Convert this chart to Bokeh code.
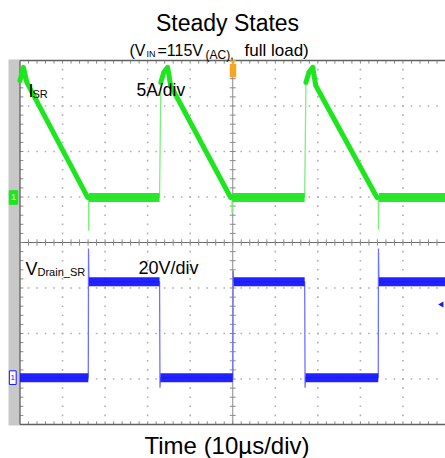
from bokeh.plotting import figure
from bokeh.models import Range1d
from bokeh.core.properties import value
from bokeh.embed import file_html
from bokeh.resources import INLINE

# ---- data (time in screen divisions, 10 us/div; amplitude in screen divisions) ----
# I_SR trace (green, 5 A/div, channel ground at 5.0 div)
ISR_t = [0.00, 0.08, 0.16, 1.59, 1.61, 1.615, 1.62, 3.28, 3.31, 3.38, 3.47, 3.54,
         4.95, 4.98, 4.985, 4.99, 6.69, 6.72, 6.79, 6.88, 6.95, 8.39, 8.42, 8.425, 8.43, 10.0]
ISR_v = [7.56, 7.85, 7.52, 4.99, 4.99, 4.26, 4.99, 4.99, 7.52, 7.74, 7.85, 7.45,
         4.99, 4.99, 4.64, 4.99, 4.99, 7.52, 7.74, 7.85, 7.45, 4.99, 4.99, 4.28, 4.99, 4.99]
ISR_ramps = [(0, 3), (8, 12), (17, 21)]
ISR_flats = [(6, 7), (15, 16), (24, 25)]

# V_Drain_SR trace (blue, 20 V/div, channel ground at 1.0 div)
VDS_t = [0.00, 1.605, 1.61, 1.62, 3.28, 3.29, 3.30, 5.00, 5.01, 5.02,
         6.69, 6.70, 6.71, 8.42, 8.425, 8.435, 10.0]
VDS_v = [1.03, 1.03, 3.87, 3.14, 3.14, 0.81, 1.03, 1.03, 3.38, 3.14,
         3.14, 0.81, 1.03, 1.03, 3.87, 3.14, 3.14]
VDS_flats = [(0, 1), (3, 4), (6, 7), (9, 10), (12, 13), (15, 16)]

GREEN = "#1ee61e"
GREEN_EDGE = "#7cf07c"
BLUE = "#1616ff"
BLUE_EDGE = "#7070ff"
FONT = value("Liberation Sans")

PX_X = 42.55   # pixels per division, horizontal
PX_Y = 45.5    # pixels per division, vertical
W, H = 445, 458
LEFT, TOP = 19.5, 60.0   # graticule origin on the page
x0 = -LEFT / PX_X
y1 = 8 + TOP / PX_Y

p = figure(width=W, height=H, output_backend="svg", toolbar_location=None,
           x_axis_type=None, y_axis_type=None, min_border=0,
           x_range=Range1d(x0, x0 + W / PX_X), y_range=Range1d(y1 - H / PX_Y, y1))
p.outline_line_color = None
p.xgrid.visible = False
p.ygrid.visible = False
p.background_fill_color = "white"

# left gray strip
p.quad(left=[-11.5 / PX_X], right=[0.0], bottom=[-0.02], top=[8.02],
       fill_color="#c8c8c8", line_color=None)

# dotted graticule
gx, gy = [], []
for i in range(1, 10):
    if i == 5:
        continue
    for k in range(1, 40):
        gx.append(i); gy.append(k * 0.2)
for j in range(1, 8):
    if j == 4:
        continue
    for k in range(1, 50):
        gx.append(k * 0.2); gy.append(j)
p.scatter(gx, gy, marker="square", size=1.6, color="#b0b0b0", line_color=None)

# center axes
p.segment(x0=[5.0], y0=[0.0], x1=[5.0], y1=[8.0], line_color="#8a8a8a", line_width=1)
p.segment(x0=[0.0], y0=[4.0], x1=[10.0], y1=[4.0], line_color="#6e6e6e", line_width=1.2)
tx0, ty0, tx1, ty1 = [], [], [], []
for k in range(1, 40):
    tx0.append(4.93); tx1.append(5.07); ty0.append(k * 0.2); ty1.append(k * 0.2)
for k in range(1, 50):
    tx0.append(k * 0.2); tx1.append(k * 0.2); ty0.append(3.93); ty1.append(4.07)
# frame ticks
for k in range(1, 50):
    tx0.append(k * 0.2); tx1.append(k * 0.2); ty0.append(8.0); ty1.append(7.93)
    tx0.append(k * 0.2); tx1.append(k * 0.2); ty0.append(0.0); ty1.append(0.07)
for k in range(1, 40):
    tx0.append(0.0); tx1.append(0.08); ty0.append(k * 0.2); ty1.append(k * 0.2)
p.segment(x0=tx0, y0=ty0, x1=tx1, y1=ty1, line_color="#8a8a8a", line_width=1)

# frame
p.segment(x0=[0.0, 0.0, 0.0], y0=[0.0, 8.0, 0.0], x1=[10.0, 10.0, 0.0], y1=[0.0, 8.0, 8.0],
          line_color="#606060", line_width=1.3)

# ---- traces ----
p.line(ISR_t, ISR_v, line_color=GREEN_EDGE, line_width=1.3)
p.multi_line([ISR_t[a:b + 1] for a, b in ISR_ramps], [ISR_v[a:b + 1] for a, b in ISR_ramps],
             line_color=GREEN, line_width=5, line_join="round", line_cap="round")
p.multi_line([ISR_t[a:b + 1] for a, b in ISR_flats], [ISR_v[a:b + 1] for a, b in ISR_flats],
             line_color=GREEN, line_width=9, line_alpha=0.95)

p.line(VDS_t, VDS_v, line_color=BLUE_EDGE, line_width=1.3)
p.multi_line([VDS_t[a:b + 1] for a, b in VDS_flats], [VDS_v[a:b + 1] for a, b in VDS_flats],
             line_color=BLUE, line_width=9, line_alpha=0.95)

# ---- scope markers ----
p.rect(x=[-0.153], y=[4.99], width=0.2, height=0.3, fill_color=GREEN, line_color=GREEN)
p.text(x=[-0.153], y=[4.99], text=["1"], text_font=FONT, text_font_size="9px",
       text_color="white", text_align="center", text_baseline="middle")
p.rect(x=[-0.17], y=[1.03], width=0.16, height=0.3, fill_color="white", line_color=BLUE)
p.text(x=[-0.17], y=[1.03], text=["1"], text_font=FONT, text_font_size="8px",
       text_color=BLUE, text_align="center", text_baseline="middle")
p.rect(x=[5.006], y=[7.78], width=0.15, height=0.3, fill_color="#f5a623", line_color=None)
p.scatter(x=[5.006], y=[7.98], marker="inverted_triangle", size=6, color="#f5a623", line_color=None)
p.scatter(x=[9.91], y=[2.64], marker="triangle", angle=1.5708, size=6, color=BLUE, line_color=None)

# ---- texts ----
def px(xp):
    return (xp - LEFT) / PX_X

def py(yp):
    return (424 - yp) / PX_Y

def label(x, y, s, size, align="left", color="black"):
    p.text(x=[px(x)], y=[py(y)], text=[s], text_font=FONT, text_font_size=size,
           text_color=color, text_align=align, text_baseline="alphabetic")

label(227, 22, "Steady States", "23px", "center")
label(129, 50, "(V", "16px")
label(146, 53, "IN", "9px")
label(157, 50, "=115V", "16px")
label(205, 54, "(AC),", "12px")
label(244, 50, "full load)", "17px")

label(28, 90, "I", "18px")
label(32, 93, "SR", "11px")
label(136, 89, "5A/div", "17.5px")
label(25, 268, "V", "18px")
label(37, 271, "Drain_SR", "11px")
label(138, 267, "20V/div", "18px")
label(226.5, 445, "Time (10µs/div)", "24px", "center")

open("out.html", "w").write(file_html(p, INLINE))
